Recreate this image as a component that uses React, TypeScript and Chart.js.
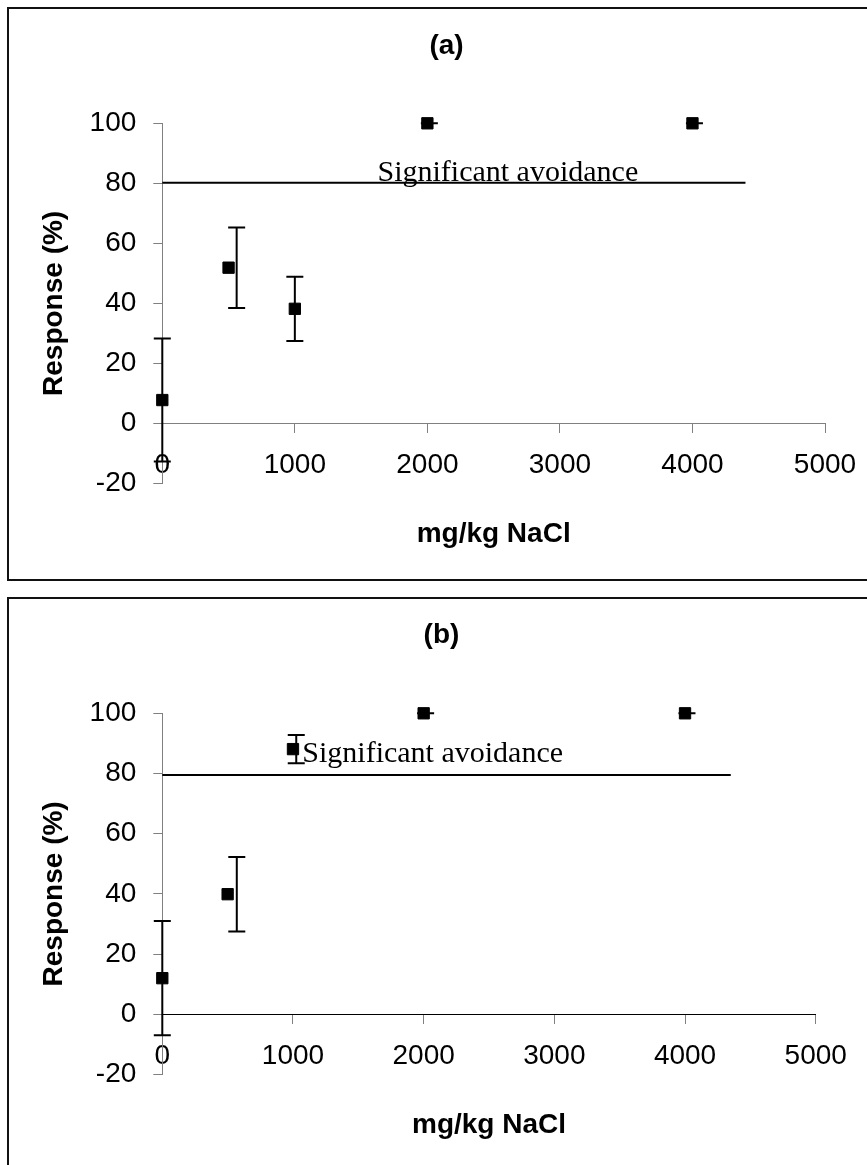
import React, { useEffect, useRef } from "react";
import { Chart, registerables } from "chart.js";

Chart.register(...registerables);

const SANS = '"Liberation Sans", Arial, Helvetica, sans-serif';
const SERIF = '"Liberation Serif", "Times New Roman", serif';

// ---- data ----
const concentrations = [0, 500, 1000, 2000, 4000];
const xTickValues = [0, 1000, 2000, 3000, 4000, 5000];
const yTickValues = [-20, 0, 20, 40, 60, 80, 100];

const responseA = [7.8, 51.9, 38.2, 100, 100];
const errorA = [20.5, 13.4, 10.7, 0, 0];
const errorXA = [0, 561, 1000, 2015, 4015];
const thresholdXA = [0, 4400];
const thresholdYA = [80.2, 80.2];

const responseB = [12, 39.9, 88.1, 100, 100];
const errorB = [19, 12.4, 4.7, 0, 0];
const errorXB = [0, 570, 1025, 2015, 4015];
const thresholdXB = [0, 4350];
const thresholdYB = [79.5, 79.5];

const thresholdLabel = "Significant avoidance";

type PanelCfg = {
  title: string;
  response: number[];
  error: number[];
  errorX: number[];
  thrX: number[];
  thrY: number[];
  labelX: number;
  labelY: number;
  canvasW: number;
  canvasH: number;
  titleTop: number;
  titleBottom: number;
  yWidth: number;
  rightW: number;
  x2H: number;
  xTitleBottom: number;
  xAxisColor: string;
};

function makeErrorBarPlugin(cfg: PanelCfg) {
  return {
    id: "errorBars",
    beforeDatasetsDraw(chart: any) {
      const { ctx } = chart;
      const xs = chart.scales.x;
      const ys = chart.scales.y;
      const cap = 17;
      ctx.save();
      ctx.strokeStyle = "#000";
      ctx.lineWidth = 2;
      cfg.errorX.forEach((xv, i) => {
        const px = xs.getPixelForValue(xv);
        const v = cfg.response[i];
        const e = cfg.error[i];
        const pt = ys.getPixelForValue(v + e);
        const pb = ys.getPixelForValue(v - e);
        ctx.beginPath();
        ctx.moveTo(px, pt);
        ctx.lineTo(px, pb);
        ctx.moveTo(px - cap / 2, pt);
        ctx.lineTo(px + cap / 2, pt);
        ctx.moveTo(px - cap / 2, pb);
        ctx.lineTo(px + cap / 2, pb);
        ctx.stroke();
      });
      ctx.restore();
    },
  };
}

function makeLabelPlugin(cfg: PanelCfg) {
  return {
    id: "avoidLabel",
    afterDatasetsDraw(chart: any) {
      const { ctx } = chart;
      const px = chart.scales.x.getPixelForValue(cfg.labelX);
      const py = chart.scales.y.getPixelForValue(cfg.labelY);
      ctx.save();
      ctx.font = `30px ${SERIF}`;
      ctx.fillStyle = "#000";
      ctx.textAlign = "center";
      ctx.textBaseline = "alphabetic";
      ctx.fillText(thresholdLabel, px, py);
      ctx.restore();
    },
  };
}

function buildConfig(cfg: PanelCfg): any {
  const tickFont = { family: SANS, size: 28 };
  const boldFont = { family: SANS, size: 28, weight: "bold" as const };
  return {
    type: "scatter",
    data: {
      datasets: [
        {
          type: "line",
          xAxisID: "x",
          yAxisID: "y",
          data: cfg.thrX.map((x, i) => ({ x, y: cfg.thrY[i] })),
          borderColor: "#000",
          borderWidth: 2,
          pointRadius: 0,
          fill: false,
          clip: false,
          order: 2,
        },
        {
          type: "scatter",
          xAxisID: "x",
          yAxisID: "y",
          data: concentrations.map((x, i) => ({ x, y: cfg.response[i] })),
          pointStyle: "rect",
          pointRadius: 8,
          backgroundColor: "#000",
          borderColor: "#000",
          borderWidth: 1,
          clip: false,
          order: 1,
        },
      ],
    },
    options: {
      responsive: false,
      maintainAspectRatio: false,
      animation: false,
      devicePixelRatio: 1,
      layout: { padding: 0 },
      events: [],
      plugins: {
        legend: { display: false },
        tooltip: { enabled: false },
        title: {
          display: true,
          text: cfg.title,
          color: "#000",
          font: boldFont,
          padding: { top: cfg.titleTop, bottom: cfg.titleBottom },
        },
      },
      scales: {
        x: {
          type: "linear",
          axis: "x",
          position: { y: 0 },
          min: 0,
          max: 5000,
          afterBuildTicks: (s: any) => {
            s.ticks = xTickValues.map((v) => ({ value: v }));
          },
          ticks: {
            font: tickFont,
            color: "#000",
            padding: 15.7,
            maxRotation: 0,
            autoSkip: false,
            callback: (v: any) => String(v),
          },
          grid: {
            drawOnChartArea: false,
            drawTicks: true,
            tickLength: 9,
            color: "#808080",
          },
          border: { color: cfg.xAxisColor, width: 1 },
        },
        y: {
          type: "linear",
          position: "left",
          min: -20,
          max: 100,
          afterBuildTicks: (s: any) => {
            s.ticks = yTickValues.map((v) => ({ value: v }));
          },
          ticks: {
            font: tickFont,
            color: "#000",
            padding: 17,
            callback: (v: any) => String(v),
          },
          grid: {
            drawOnChartArea: false,
            drawTicks: true,
            tickLength: 9,
            color: "#808080",
          },
          border: { color: "#808080", width: 1 },
          title: {
            display: true,
            text: "Response (%)",
            color: "#000",
            font: boldFont,
            padding: { top: 28.2, bottom: 0 },
          },
          afterFit: (s: any) => {
            s.width = cfg.yWidth;
          },
        },
        x2: {
          type: "linear",
          axis: "x",
          position: "bottom",
          min: 0,
          max: 5000,
          ticks: { display: false },
          grid: { display: false },
          border: { display: false },
          title: {
            display: true,
            text: "mg/kg NaCl",
            color: "#000",
            font: boldFont,
            padding: { top: 0, bottom: cfg.xTitleBottom },
          },
          afterFit: (s: any) => {
            s.height = cfg.x2H;
          },
        },
        yr: {
          type: "linear",
          axis: "y",
          position: "right",
          min: -20,
          max: 100,
          ticks: { display: false },
          grid: { display: false },
          border: { display: false },
          afterFit: (s: any) => {
            s.width = cfg.rightW;
          },
        },
      },
    },
    plugins: [makeErrorBarPlugin(cfg), makeLabelPlugin(cfg)],
  };
}

const panelA: PanelCfg = {
  title: "(a)",
  response: responseA,
  error: errorA,
  errorX: errorXA,
  thrX: thresholdXA,
  thrY: thresholdYA,
  labelX: 2607,
  labelY: 80.8,
  canvasW: 875,
  canvasH: 570,
  titleTop: 20.2,
  titleBottom: 60.5,
  yWidth: 153.3,
  rightW: 59,
  x2H: 95.5,
  xTitleBottom: 28.2,
  xAxisColor: "#808080",
};

const panelB: PanelCfg = {
  title: "(b)",
  response: responseB,
  error: errorB,
  errorX: errorXB,
  thrX: thresholdXB,
  thrY: thresholdYB,
  labelX: 2069,
  labelY: 83.8,
  canvasW: 865,
  canvasH: 570,
  titleTop: 19.2,
  titleBottom: 61.5,
  yWidth: 153.3,
  rightW: 58.3,
  x2H: 94.5,
  xTitleBottom: 27.2,
  xAxisColor: "#000000",
};

function Panel({ top, height, cfg }: { top: number; height: number; cfg: PanelCfg }) {
  const ref = useRef<HTMLCanvasElement>(null);
  useEffect(() => {
    if (!ref.current) return;
    const chart = new Chart(ref.current, buildConfig(cfg));
    return () => chart.destroy();
  }, [cfg]);
  return (
    <div
      style={{
        position: "absolute",
        left: 7,
        top,
        width: 890,
        height,
        border: "2px solid #111",
        boxSizing: "border-box",
      }}
    >
      <canvas
        ref={ref}
        width={cfg.canvasW}
        height={cfg.canvasH}
        style={{
          position: "absolute",
          left: 0,
          top: 0,
          width: cfg.canvasW,
          height: cfg.canvasH,
        }}
      />
    </div>
  );
}

export default function App() {
  return (
    <div
      style={{
        position: "fixed",
        left: 0,
        top: 0,
        right: 0,
        bottom: 0,
        overflow: "hidden",
        background: "#fff",
      }}
    >
      <Panel top={7} height={574} cfg={panelA} />
      <Panel top={597} height={600} cfg={panelB} />
    </div>
  );
}
